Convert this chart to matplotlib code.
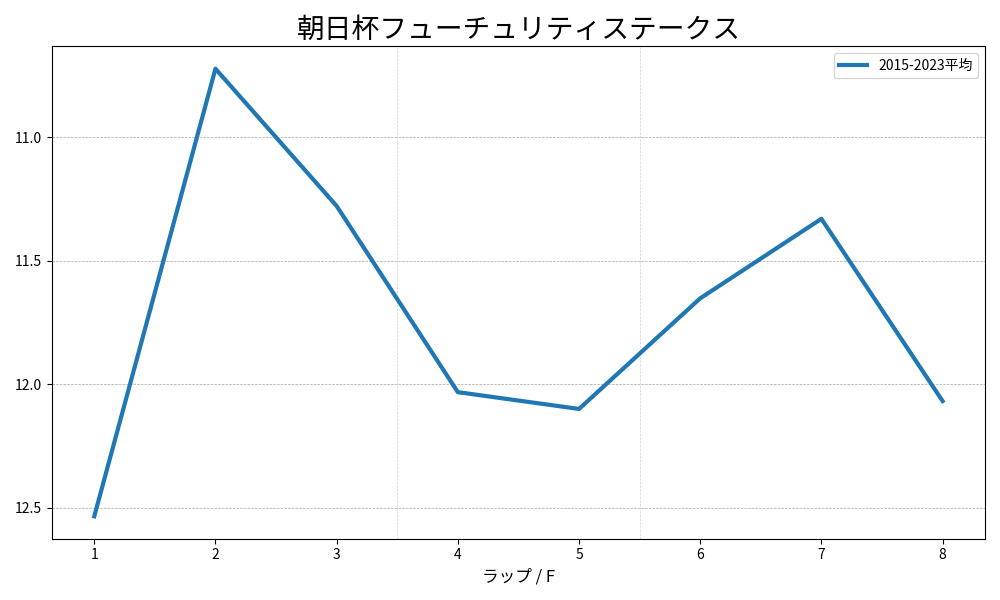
import numpy as np
import matplotlib as mpl
mpl.use("Agg")
import matplotlib.pyplot as plt

plt.rcParams['font.family'] = ['Noto Sans CJK JP', 'DejaVu Sans']

laps = [1, 2, 3, 4, 5, 6, 7, 8]
avg_times = [12.535, 10.722, 11.278, 12.032, 12.10, 11.652, 11.33, 12.068]
series_label = "2015-2023平均"
title = "朝日杯フューチュリティステークス"

fig, ax = plt.subplots(figsize=(10, 6), dpi=100)
ax.plot(laps, avg_times, linewidth=3, color='#1f77b4', label=series_label, zorder=3)
ax.invert_yaxis()
ax.set_yticks([11.0, 11.5, 12.0, 12.5])
ax.set_xticks(laps)
ax.grid(axis='y', linestyle='--', linewidth=0.5, color='gray', alpha=0.7)
for x in [3.5, 5.5]:
    ax.axvline(x, linestyle='--', linewidth=0.5, color='lightgray', zorder=1)
ax.set_title(title, fontsize=20)
ax.set_xlabel("ラップ / F", fontsize=12)
ax.legend(loc='upper right')
fig.tight_layout()
fig.savefig("out.png")
